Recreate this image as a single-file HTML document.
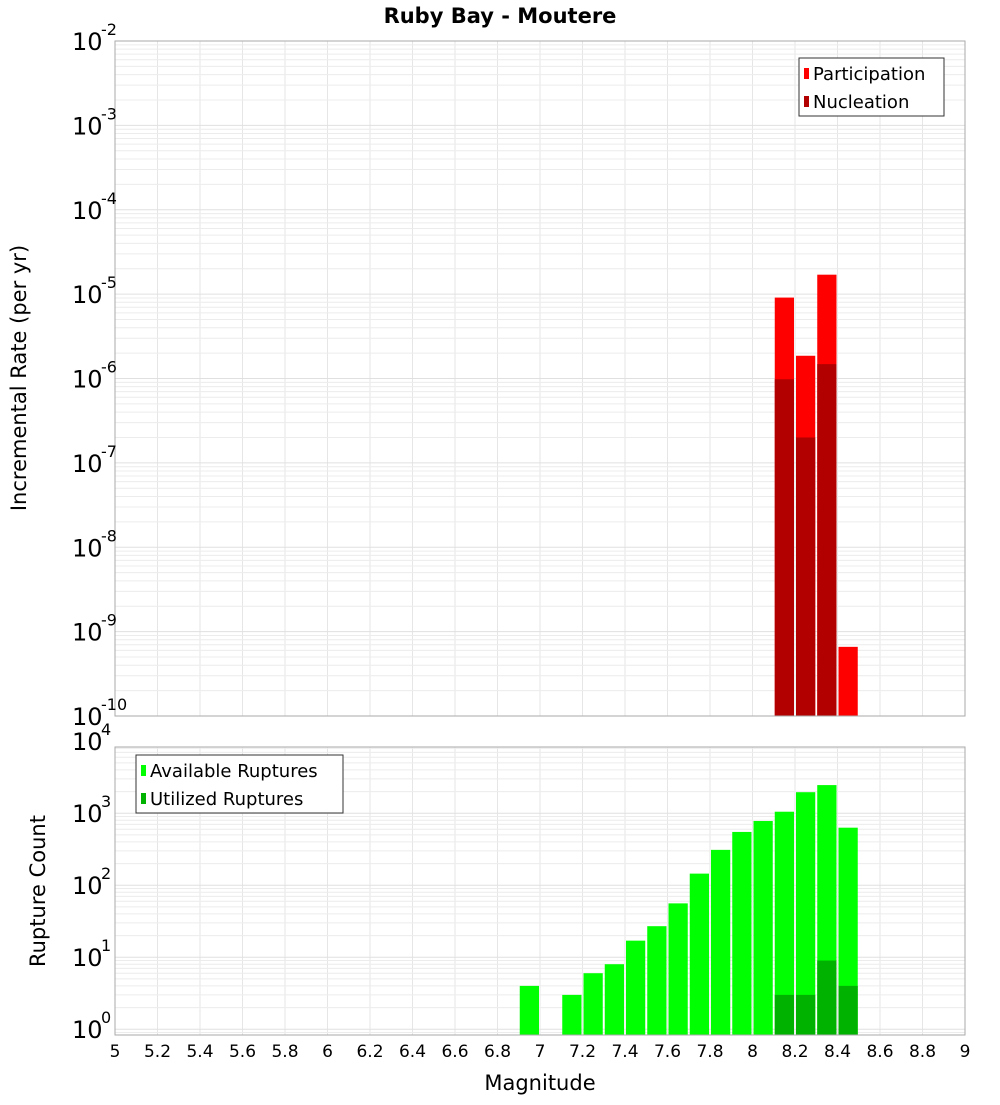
<!DOCTYPE html>
<html><head><meta charset="utf-8"><style>
body{margin:0;background:#fff;}
svg{font-family:"DejaVu Sans","Liberation Sans",sans-serif;}
</style></head><body>
<svg id="chart" width="1000" height="1100" xmlns="http://www.w3.org/2000/svg">
<text x="500" y="23" text-anchor="middle" font-weight="bold" font-size="21">Ruby Bay - Moutere</text>
<text transform="translate(26,378) rotate(-90)" text-anchor="middle" font-size="21">Incremental Rate (per yr)</text>
<text transform="translate(45,891) rotate(-90)" text-anchor="middle" font-size="21">Rupture Count</text>
<text x="540" y="1090" text-anchor="middle" font-size="21">Magnitude</text>
<g id="g"></g>
</svg>
<script>
const binCenters = [6.95,7.05,7.15,7.25,7.35,7.45,7.55,7.65,7.75,7.85,7.95,8.05,8.15,8.25,8.35,8.45];
const available = [4,0,3,6,8,17,27,56,145,310,550,780,1050,1960,2460,630];
const utilized = [0,0,0,0,0,0,0,0,0,0,0,0,3,3,9,4];
const rateBins = [8.15,8.25,8.35,8.45];
const participation = [9.1e-6,1.86e-6,1.7e-5,6.6e-10];
const nucleation = [9.8e-7,2.0e-7,1.48e-6,0];
const xTicks = [5,5.2,5.4,5.6,5.8,6,6.2,6.4,6.6,6.8,7,7.2,7.4,7.6,7.8,8,8.2,8.4,8.6,8.8,9];
const topDecades = [-10,-9,-8,-7,-6,-5,-4,-3,-2];
const botDecades = [0,1,2,3,4];

const NS="http://www.w3.org/2000/svg";
const g=document.getElementById('g');
function mk(tag,attrs,parent){const e=document.createElementNS(NS,tag);for(const k in attrs)e.setAttribute(k,attrs[k]);(parent||g).appendChild(e);return e;}
const X0=115,X1=965;
const x=v=>X0+(v-5)/4*(X1-X0);
const T0=41,T1=716; const yTop=v=>T0+(-2-Math.log10(v))/8*(T1-T0);
const B0=747,B1=1035; const LMIN=-0.08,LMAX=3.92; const yBot=v=>B0+(LMAX-Math.log10(v))/(LMAX-LMIN)*(B1-B0);

function grid(yf,top,bot,decs,lo,hi){
  for(const t of xTicks){const l=mk('line',{x1:x(t),x2:x(t),y1:top,y2:bot,stroke:'#e6e6e6','stroke-width':1});
  
  }
  for(let d=Math.floor(lo);d<=Math.ceil(hi);d++)for(let m=1;m<10;m++){const lv=d+Math.log10(m);if(lv<lo||lv>hi)continue;const yy=yf(Math.pow(10,lv));
    const l=mk('line',{x1:X0,x2:X1,y1:yy,y2:yy,stroke:m==1?'#e0e0e0':'#ececec','stroke-width':1});
    
    }
}
grid(yTop,T0,T1,topDecades,-10,-2);
grid(yBot,B0,B1,botDecades,LMIN,LMAX);

// top bars
const bw=(x(0.1)-x(0))-2;
rateBins.forEach((m,i)=>{
  if(participation[i]>0){const yy=yTop(participation[i]);const r=mk('rect',{x:x(m-0.05)+1,y:yy,width:bw,height:T1-yy,fill:'#ff0000'});
  
  }
  if(nucleation[i]>0){const yy=yTop(nucleation[i]);const r=mk('rect',{x:x(m-0.05)+1,y:yy,width:bw,height:T1-yy,fill:'#b20000'});
  
  }
});
binCenters.forEach((m,i)=>{
  if(available[i]>0){const yy=yBot(available[i]);const r=mk('rect',{x:x(m-0.05)+1,y:yy,width:bw,height:B1-yy,fill:'#00ff00'});
  
  }
  if(utilized[i]>0){const yy=yBot(utilized[i]);const r=mk('rect',{x:x(m-0.05)+1,y:yy,width:bw,height:B1-yy,fill:'#00b200'});
  
  }
});
// frames
let f=mk('rect',{x:X0,y:T0,width:X1-X0,height:T1-T0,fill:'none',stroke:'#aaa'});


f=mk('rect',{x:X0,y:B0,width:X1-X0,height:B1-B0,fill:'none',stroke:'#aaa'});


// y labels
function ylab(yy,d){const t=mk('text',{x:72,y:yy+9,'font-size':24});t.textContent='10';
  
  
  const s=mk('text',{x:101,y:yy-6,'font-size':16});s.textContent=String(d);
  
  }
topDecades.forEach(d=>ylab(yTop(Math.pow(10,d)),d));
botDecades.forEach(d=>ylab(yBot(Math.pow(10,d)),d));
xTicks.forEach(t=>{const e=mk('text',{x:x(t),y:1057,'text-anchor':'middle','font-size':17});e.textContent=String(t);
  
  });
// legends
function legend(bx,by,w,items,name){const gg=mk('g',{});
  mk('rect',{x:bx,y:by,width:w,height:58,fill:'#fff',stroke:'#333'},gg);
  items.forEach((it,i)=>{mk('rect',{x:bx+5,y:by+10+i*28,width:5,height:11,fill:it[1]},gg);
    const t=mk('text',{x:bx+14,y:by+22+i*28,'font-size':18},gg);t.textContent=it[0];
    
    });}
legend(799,58,145,[['Participation','#ff0000'],['Nucleation','#b20000']],'top-legend');
legend(136,755,207,[['Available Ruptures','#00ff00'],['Utilized Ruptures','#00b200']],'bottom-legend');
</script>
</body></html>
